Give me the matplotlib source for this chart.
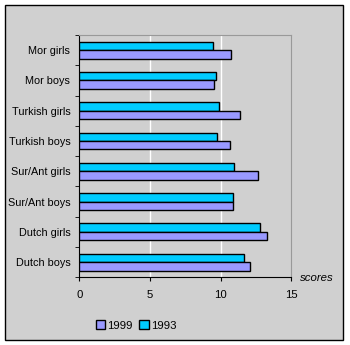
import numpy as np
import matplotlib.pyplot as plt
from matplotlib.patches import Rectangle

plt.rcParams['font.family'] = ['Liberation Sans', 'DejaVu Sans']

groups = ["Mor girls", "Mor boys", "Turkish girls", "Turkish boys",
          "Sur/Ant girls", "Sur/Ant boys", "Dutch girls", "Dutch boys"]
scores_1993 = [9.44, 9.65, 9.86, 9.72, 10.92, 10.85, 12.82, 11.62]
scores_1999 = [10.70, 9.51, 11.34, 10.63, 12.61, 10.85, 13.31, 12.11]
xticks = [0, 5, 10, 15]

bg = "#d0d0d0"
c93 = "#00ccff"
c99 = "#9999ff"
fs = 7.8

fig = plt.figure(figsize=(3.5, 3.45), dpi=100)
fig.patch.set_facecolor("white")
# outer frame
fig.patches.append(Rectangle((5/350, 1-340/345), 338/350, 335/345, transform=fig.transFigure,
                             facecolor=bg, edgecolor="black", linewidth=1, zorder=-10))

ax = fig.add_axes([79.3/350, 1-277.3/345, 212/350, 242.3/345])
ax.set_facecolor(bg)

y = np.arange(len(groups))
h = 0.28
ax.barh(y - h/2, scores_1993, height=h, color=c93, edgecolor="black", linewidth=1, label="1993", zorder=3)
ax.barh(y + h/2, scores_1999, height=h, color=c99, edgecolor="black", linewidth=1, label="1999", zorder=3)

ax.set_ylim(len(groups) - 0.5, -0.5)
ax.set_xlim(0, 15)
ax.set_xticks(xticks)
ax.set_xticklabels([str(t) for t in xticks], fontsize=fs + 0.4)
ax.set_yticks(y)
ax.set_yticklabels(groups, fontsize=fs)
ax.set_yticks(np.arange(-0.5, len(groups), 1), minor=True)
ax.tick_params(axis="y", which="major", length=0, pad=6.5)
ax.tick_params(axis="y", which="minor", length=3, direction="out", color="black")
ax.tick_params(axis="x", length=3, direction="out", pad=6, color="black")

for v in [5, 10]:
    ax.axvline(v, color="white", linewidth=1, zorder=1)

for s in ["top", "right"]:
    ax.spines[s].set_color("#999999")
for s in ["left", "bottom"]:
    ax.spines[s].set_color("black")

fig.text(300/350, 1-278/345, "scores", fontsize=fs + 0.4, style="italic", ha="left", va="center")

handles, labels = ax.get_legend_handles_labels()
leg = fig.legend(handles[::-1], labels[::-1], loc="center", bbox_to_anchor=(136/350, 1-325.5/345),
                 ncol=2, frameon=False, fontsize=fs + 0.4, handlelength=0.8, handleheight=0.8,
                 handletextpad=0.2, columnspacing=0.6)

fig.savefig("out.png", dpi=100, facecolor=fig.get_facecolor())
